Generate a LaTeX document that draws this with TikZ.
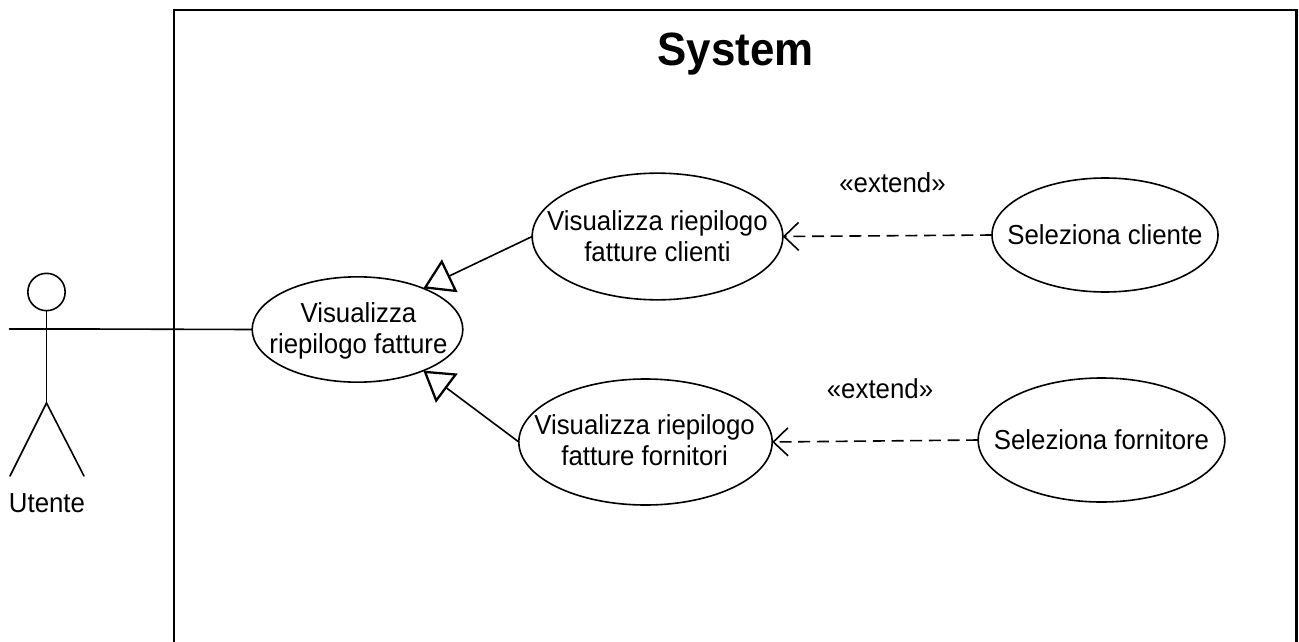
\documentclass[tikz,border=0pt]{standalone}
\usepackage{fontspec}
\setmainfont[FakeStretch=0.94]{Liberation Sans}
\usetikzlibrary{arrows.meta,shapes.geometric}
\tikzset{
  uc/.style={draw=black,ellipse,line width=1.2pt,inner sep=0pt,outer sep=0pt},
  lbl/.style={inner sep=0pt,outer sep=0pt,align=center,font=\fontsize{20.6}{23.25}\selectfont},
  ln/.style={line width=1.2pt,line cap=round},
  gen/.style={ln,-{Triangle[open,length=22pt,width=27pt,line width=1.7pt]}},
  ext/.style={line width=1.2pt,dash pattern=on 9pt off 5pt,
    -{Straight Barb[length=11pt,width=21pt,line width=1.2pt]}}
}
\begin{document}
\begin{tikzpicture}[x=0.75pt,y=-0.75pt]
\useasboundingbox (0,0) rectangle (1299,642);
\clip (0,0) rectangle (1299,642);
\fill[white] (0,0) rectangle (1299,642);
% system boundary
\draw[line width=1.9pt] (174,670) -- (174,10) -- (1296.5,10) -- (1296.5,670);
\node[inner sep=0pt,anchor=base,font=\fontsize{35}{38}\selectfont\bfseries] (sys) at (735.5,66) {System};
% use cases
\node[uc,minimum width=158pt,minimum height=79pt,label={[lbl,xshift=0.7pt,yshift=-1.3pt]center:Visualizza\\riepilogo fatture}] (e1) at (357.5,329.5) {};
\node[uc,minimum width=188pt,minimum height=95pt,label={[lbl,yshift=0.3pt]center:Visualizza riepilogo\\fatture clienti}] (e2) at (657.5,236.5) {};
\node[uc,minimum width=190pt,minimum height=94.5pt,label={[lbl,xshift=-0.7pt,yshift=1pt]center:Visualizza riepilogo\\fatture fornitori}] (e3) at (645.5,442) {};
\node[uc,minimum width=169.5pt,minimum height=85.5pt,label={[lbl]center:Seleziona cliente}] (e4) at (1105,235) {};
\node[uc,minimum width=185pt,minimum height=93pt,label={[lbl]center:Seleziona fornitore}] (e5) at (1101.5,440) {};
% actor
\node[draw,circle,line width=1.2pt,minimum size=28pt,inner sep=0pt,outer sep=0pt] (head) at (46.5,292) {};
\coordinate (hip) at (46.5,403);
\coordinate (armL) at (9.5,329);
\coordinate (armR) at (84,329);
\coordinate (legL) at (10,476);
\coordinate (legR) at (84,476);
\draw[ln] (head.south) -- (hip);
\draw[ln] (armL) -- (armR);
\draw[ln] (legL) -- (hip) -- (legR);
\node[lbl,anchor=base] (ut) at (47,512) {Utente};
% connectors
\draw[ln] (armR) -- (e1.west);
\draw[gen] (e2.west) -- (e1.32);
\draw[gen] (e3.west) -- (e1.-32);
\draw[ext] (e4.west) -- (e2.east);
\draw[ext] (e5.west) -- (e3.east);
% stereotypes
\node[lbl,anchor=base] (x1) at (892.5,192) {«extend»};
\node[lbl,anchor=base] (x2) at (880,398) {«extend»};
\end{tikzpicture}
\end{document}
